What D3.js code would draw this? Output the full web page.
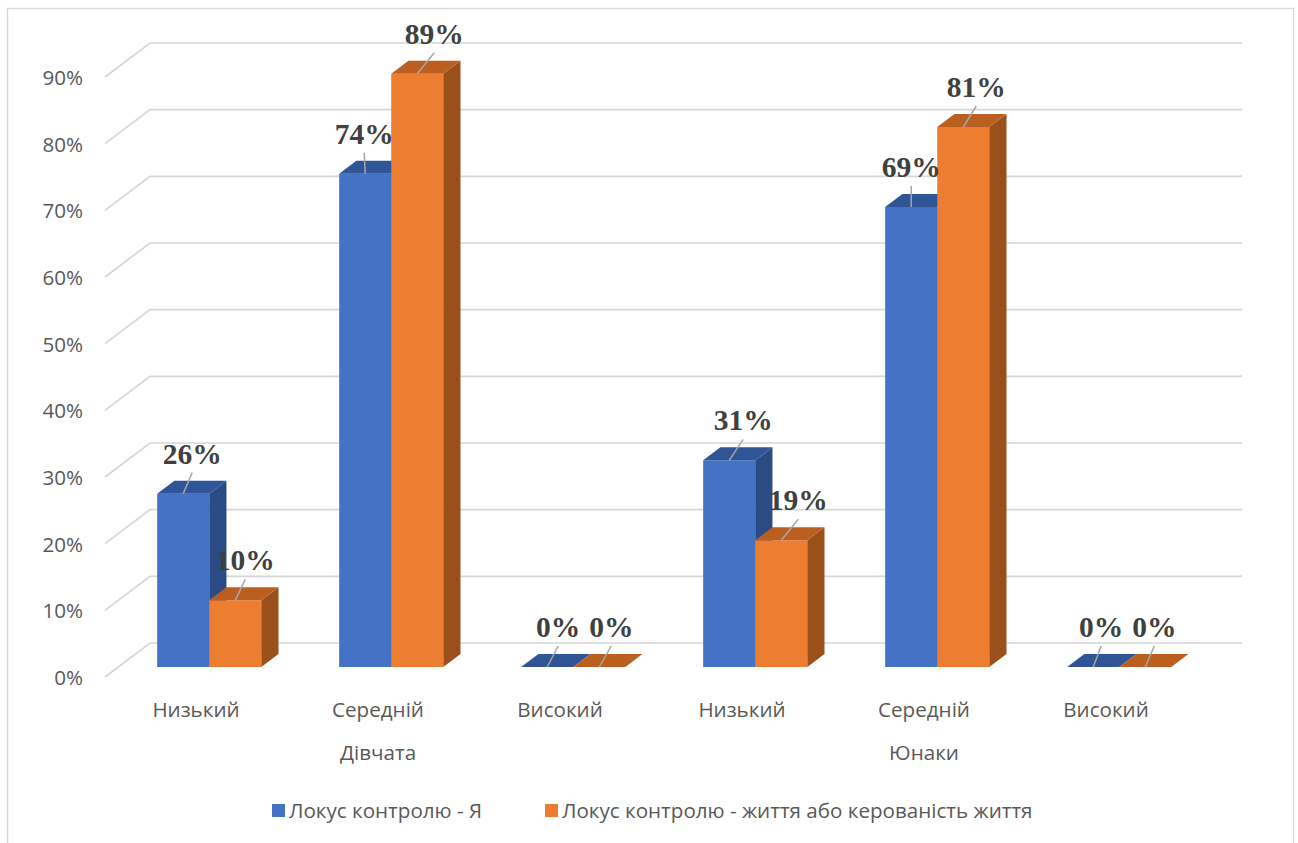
<!DOCTYPE html>
<html lang="uk">
<head>
<meta charset="utf-8">
<script src="https://cdn.jsdelivr.net/npm/d3@7"></script>
<style>
  html, body { margin: 0; padding: 0; background: #ffffff; }
  svg { display: block; }
</style>
</head>
<body>
<svg id="chart" width="1298" height="843"></svg>
<script>
// ---- data ----
const levels = ["Низький", "Середній", "Високий"];
const groups = ["Дівчата", "Юнаки"];
const seriesNames = ["Локус контролю - Я", "Локус контролю - життя або керованість життя"];
const valuesSelf = [26, 74, 0, 31, 69, 0];   // % per level, Дівчата then Юнаки
const valuesLife = [10, 89, 0, 19, 81, 0];
const yTickValues = [0, 10, 20, 30, 40, 50, 60, 70, 80, 90];

// ---- layout ----
const labelNudgeSelf = [9, -1, 11, 14, 0, 8];   // horizontal nudge of value labels
const labelNudgeLife = [10, 17, 12, 17, 13, 9];
const colors = {
  self: { front: "#4472C4", top: "#2F5597", side: "#2B4B85" },
  life: { front: "#ED7D31", top: "#BA5F20", side: "#9B501B" }
};
const sansFont = "'Open Sans', sans-serif";
const sansSize = 20.6;

const svg = d3.select("#chart");

// chart border
svg.append("rect")
  .attr("x", 7.5).attr("y", 8.5).attr("width", 1286).attr("height", 860)
  .attr("fill", "#fff").attr("stroke", "#d9d9d9").attr("stroke-width", 1.5);

// slots = every level within every group
const slots = d3.range(groups.length * levels.length);
const x = d3.scaleBand().domain(slots).range([105, 1197]).padding(0);
const y = d3.scaleLinear().domain([0, 90]).range([677, 77]);

// 3-D depth: offset of the back wall relative to the front edge of the floor
const DX = 45, DY = 34;
const tFront = 10 / 34, tBack = 23 / 34;
const P = (xf, v, t) => [xf + DX * t, y(v) - DY * t];

// gridlines: diagonal on the side wall, then horizontal on the back wall
const grid = svg.append("g");
yTickValues.forEach(v => {
  const a = P(x.range()[0], v, 0), b = P(x.range()[0], v, 1), c = P(x.range()[1], v, 1);
  grid.append("path")
    .attr("d", d3.line()([a, b, c]))
    .attr("fill", "none").attr("stroke", "#d6d6d6").attr("stroke-width", 1.7);
});

// y axis labels
const yAxis = d3.axisLeft(y).tickValues(yTickValues).tickSize(0).tickPadding(0)
  .tickFormat(d => d + "%");
const ya = svg.append("g").attr("transform", "translate(83,0)").call(yAxis);
ya.select(".domain").remove();
ya.selectAll("text")
  .attr("fill", "#595959").attr("font-family", sansFont)
  .attr("font-size", sansSize).attr("dy", "0.36em");

// bars
const barW = x.bandwidth() * 0.286;
const series = [
  { key: "self", vals: valuesSelf, nudge: labelNudgeSelf, off: -1 },
  { key: "life", vals: valuesLife, nudge: labelNudgeLife, off: 0 }
];
const poly = pts => "M" + pts.map(p => p.join(",")).join("L") + "Z";
const bars = svg.append("g");
const labelLayer = svg.append("g");

slots.forEach(i => {
  const cx = x(i) + x.bandwidth() / 2;
  series.forEach(s => {
    const v = s.vals[i];
    const x0 = cx + s.off * barW, x1 = x0 + barW;
    const c = colors[s.key];
    const fbl = P(x0, 0, tFront), fbr = P(x1, 0, tFront);
    const ftl = P(x0, v, tFront), ftr = P(x1, v, tFront);
    const btl = P(x0, v, tBack), btr = P(x1, v, tBack), bbr = P(x1, 0, tBack);
    bars.append("path").attr("d", poly([fbl, fbr, ftr, ftl])).attr("fill", c.front);
    bars.append("path").attr("d", poly([ftr, fbr, bbr, btr])).attr("fill", c.side);
    bars.append("path").attr("d", poly([ftl, ftr, btr, btl])).attr("fill", c.top);

    // value label with leader line
    const mid = P((x0 + x1) / 2, v, tFront);
    const lx = mid[0] + s.nudge[i];
    const base = mid[1] - 30;
    labelLayer.append("line")
      .attr("x1", mid[0]).attr("y1", mid[1])
      .attr("x2", lx).attr("y2", base + 9)
      .attr("stroke", "#a6a6a6").attr("stroke-width", 1.5);
    labelLayer.append("text")
      .attr("x", lx).attr("y", base)
      .attr("text-anchor", "middle")
      .attr("font-family", "'Liberation Serif', 'Times New Roman', serif")
      .attr("font-weight", "bold").attr("font-size", 29.5)
      .attr("fill", "#404040")
      .text(v + "%");
  });
});

// category labels
const catText = svg.append("g")
  .attr("font-family", sansFont).attr("font-size", sansSize)
  .attr("fill", "#595959").attr("text-anchor", "middle");
slots.forEach(i => {
  catText.append("text")
    .attr("x", x(i) + x.bandwidth() / 2).attr("y", 717)
    .text(levels[i % levels.length]);
});
groups.forEach((g, gi) => {
  const mid = slots[gi * levels.length + 1];
  catText.append("text")
    .attr("x", x(mid) + x.bandwidth() / 2).attr("y", 760)
    .text(g);
});

// legend
const legend = svg.append("g")
  .attr("font-family", sansFont).attr("font-size", sansSize).attr("fill", "#595959");
const legendX = [272, 545];
series.forEach((s, k) => {
  legend.append("rect")
    .attr("x", legendX[k]).attr("y", 804).attr("width", 13).attr("height", 13)
    .attr("fill", colors[s.key].front);
  legend.append("text")
    .attr("x", legendX[k] + 17).attr("y", 818)
    .text(seriesNames[k]);
});
</script>
</body>
</html>
